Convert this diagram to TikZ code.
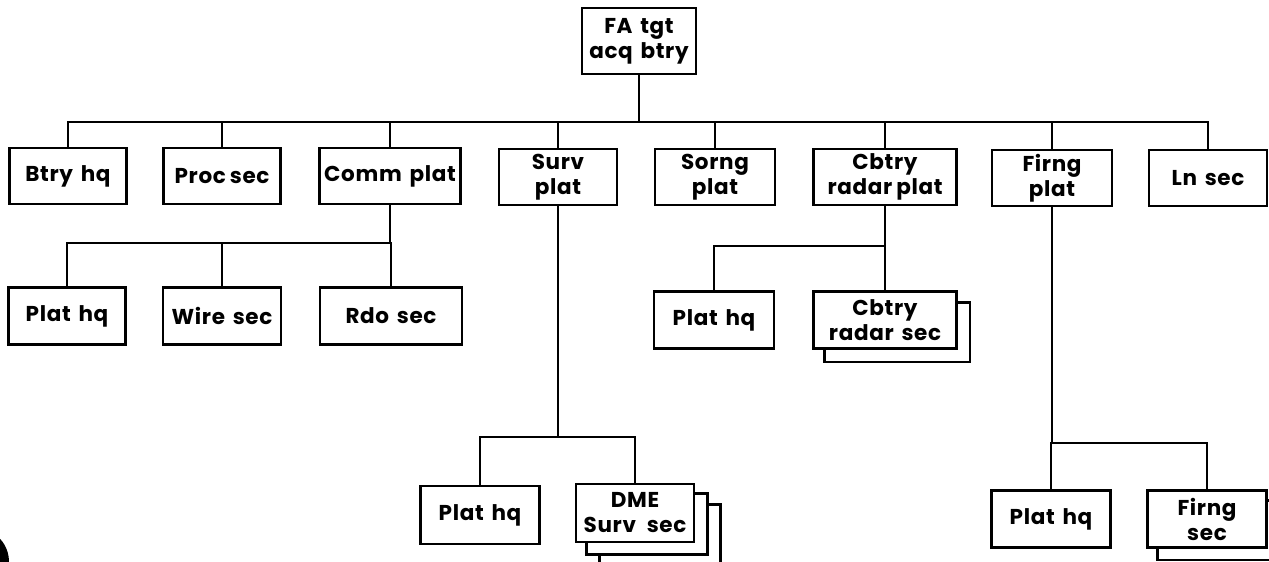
\documentclass[tikz,border=0pt]{standalone}
\usepackage{fontspec}
\setmainfont{Poppins}[LetterSpace=3,WordSpace=1.5]
\usetikzlibrary{backgrounds}
\begin{document}
\begin{tikzpicture}[x=1pt,y=-1pt,line width=2.6pt,
  box/.style={draw,fill=white,line width=2.6pt,align=center,inner sep=0pt,
    minimum height=56pt,font=\fontsize{21.5}{25}\selectfont\bfseries},
  shadowbox/.style={draw,fill=white,line width=2.6pt}]
\useasboundingbox (0,0) rectangle (1269,562);
\clip (0,0) rectangle (1269,562);
% top
\node[box,minimum width=114pt,minimum height=66pt] (fa) at (639,41) {FA tgt\\acq btry};
% row 1
\node[box,minimum width=117pt] (btry) at (68,176) {Btry hq};
\node[box,minimum width=117pt] (proc) at (222,176) {Proc\hspace{4pt}sec};
\node[box,minimum width=141pt] (comm) at (390,176) {Comm plat};
\node[box,minimum width=118pt] (surv) at (558,177) {Surv\\plat};
\node[box,minimum width=120pt] (sorng) at (715,177) {Sorng\\plat};
\node[box,minimum width=143pt] (cbtry) at (885,177) {Cbtry\\radar\hspace{4pt}plat};
\node[box,minimum width=120pt] (firng) at (1052,178) {Firng\\plat};
\node[box,minimum width=118pt] (ln) at (1208,178) {Ln sec};
% comm children
\node[box,minimum width=117pt,minimum height=57pt] (cphq) at (67,316) {Plat hq};
\node[box,minimum width=118pt,minimum height=57pt] (wire) at (222,316) {Wire sec};
\node[box,minimum width=142pt,minimum height=57pt] (rdo) at (391,316) {Rdo sec};
% cbtry children
\node[box,minimum width=120pt,minimum height=57pt] (cbhq) at (714,320) {Plat hq};
\node[box,minimum width=143pt,minimum height=57pt] (cbsec) at (885,320) {Cbtry\\radar sec};
% surv children
\node[box,minimum width=119pt,minimum height=58pt] (svhq) at (480,515) {Plat hq};
\node[box,minimum width=118pt,minimum height=58pt] (dme) at (635,513) {DME\\Surv\enspace sec};
% firng children
\node[box,minimum width=119pt,minimum height=57pt] (fihq) at (1051,519) {Plat hq};
\node[box,minimum width=119pt,minimum height=57pt] (fisec) at (1207,519) {Firng\\sec};
% stacked shadows
\begin{scope}[on background layer]
\draw[shadowbox] ([shift={(25,22)}]dme.north west) rectangle ([shift={(25,22)}]dme.south east);
\draw[shadowbox] ([shift={(12,11)}]dme.north west) rectangle ([shift={(12,11)}]dme.south east);
\draw[shadowbox] ([shift={(12,12)}]cbsec.north west) rectangle ([shift={(12,12)}]cbsec.south east);
\draw[shadowbox] ([shift={(11,11)}]fisec.north west) rectangle ([shift={(11,11)}]fisec.south east);
\end{scope}
% bus levels
\coordinate (y1) at (0,122);
\coordinate (y2) at (0,243);
\coordinate (y3) at (0,246);
\coordinate (y4) at (0,437);
\coordinate (y5) at (0,443);
% connectors
\draw (fa.south) -- (fa.south |- y1) coordinate (b1);
\foreach \n in {btry,proc,comm,surv,sorng,cbtry,firng,ln} \draw (b1) -| (\n.north);
\draw (comm.south) -- (comm.south |- y2) coordinate (b2);
\foreach \n in {cphq,wire,rdo} \draw (b2) -| (\n.north);
\draw (cbtry.south) -- (cbtry.south |- y3) coordinate (b3);
\foreach \n in {cbhq,cbsec} \draw (b3) -| (\n.north);
\draw (surv.south) -- (surv.south |- y4) coordinate (b4);
\foreach \n in {svhq,dme} \draw (b4) -| (\n.north);
\draw (firng.south) -- (firng.south |- y5) coordinate (b5);
\foreach \n in {fihq,fisec} \draw (b5) -| (\n.north);
% scan blot at lower left
\fill (-20,562) ellipse [x radius=29, y radius=32];
\end{tikzpicture}
\end{document}
